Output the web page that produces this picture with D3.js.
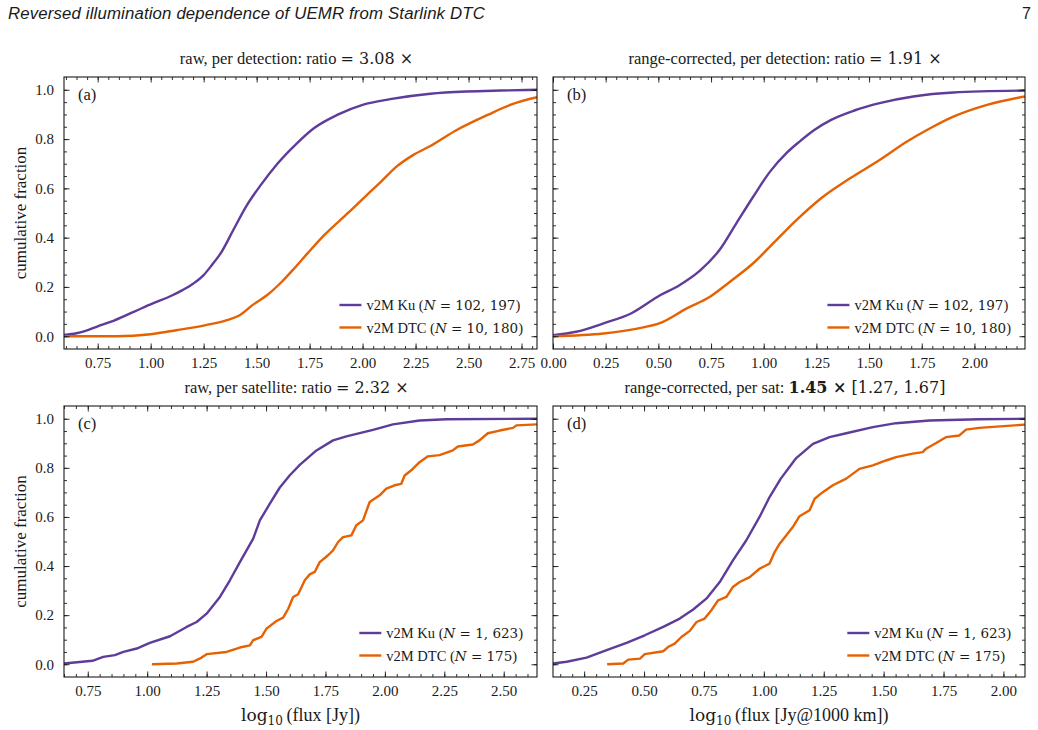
<!DOCTYPE html>
<html>
<head>
<meta charset="utf-8">
<script src="https://cdn.jsdelivr.net/npm/d3@7"></script>
<style>
  body { margin: 0; background: #fff; }
  svg text { font-family: "Liberation Serif", "Times New Roman", serif; fill: #1a1a1a; }
</style>
</head>
<body>
<div id="chart"></div>
<script>
    // ---- data (log10 flux vs cumulative fraction) ----
    // (a) raw, per detection
    const aKuX = [0.591, 0.65, 0.70, 0.75, 0.81, 0.92, 1.01, 1.10, 1.15, 1.20, 1.25, 1.29, 1.33, 1.39, 1.45, 1.52, 1.60, 1.69, 1.77, 1.88, 2.00, 2.13, 2.32, 2.49, 2.65, 2.823];
    const aKuY = [0.005, 0.012, 0.024, 0.04, 0.058, 0.099, 0.133, 0.165, 0.187, 0.213, 0.248, 0.29, 0.336, 0.431, 0.526, 0.614, 0.702, 0.783, 0.844, 0.898, 0.939, 0.962, 0.984, 0.993, 0.997, 1.0];
    const aDtcX = [0.591, 0.84, 1.00, 1.12, 1.26, 1.36, 1.42, 1.48, 1.55, 1.62, 1.67, 1.74, 1.82, 1.93, 2.02, 2.08, 2.16, 2.24, 2.32, 2.44, 2.59, 2.71, 2.823];
    const aDtcY = [0.0, 0.0, 0.008, 0.024, 0.045, 0.065, 0.085, 0.126, 0.167, 0.222, 0.268, 0.336, 0.411, 0.499, 0.573, 0.621, 0.688, 0.736, 0.772, 0.835, 0.898, 0.943, 0.97];

    // (b) range-corrected, per detection
    const bKuX = [0.0, 0.11, 0.24, 0.37, 0.51, 0.60, 0.70, 0.79, 0.87, 0.95, 1.03, 1.11, 1.17, 1.24, 1.32, 1.43, 1.55, 1.71, 1.90, 2.24];
    const bKuY = [0.004, 0.018, 0.052, 0.092, 0.167, 0.207, 0.268, 0.35, 0.458, 0.566, 0.668, 0.745, 0.79, 0.837, 0.878, 0.916, 0.946, 0.973, 0.989, 0.997];
    const bDtcX = [0.0, 0.24, 0.40, 0.51, 0.635, 0.745, 0.84, 0.95, 1.06, 1.16, 1.28, 1.41, 1.55, 1.68, 1.79, 1.90, 2.06, 2.24];
    const bDtcY = [0.0, 0.011, 0.031, 0.054, 0.113, 0.16, 0.221, 0.296, 0.39, 0.475, 0.565, 0.641, 0.715, 0.79, 0.844, 0.891, 0.939, 0.973];

    // (c) raw, per satellite
    const cKuX = [0.65, 0.77, 0.815, 0.864, 0.90, 0.956, 1.011, 1.096, 1.166, 1.208, 1.25, 1.306, 1.348, 1.39, 1.446, 1.474, 1.516, 1.558, 1.60, 1.642, 1.712, 1.782, 1.838, 1.95, 2.034, 2.146, 2.259, 2.64];
    const cKuY = [0.003, 0.014, 0.03, 0.037, 0.05, 0.064, 0.087, 0.114, 0.152, 0.172, 0.206, 0.274, 0.342, 0.416, 0.512, 0.586, 0.654, 0.72, 0.77, 0.812, 0.871, 0.912, 0.928, 0.955, 0.977, 0.993, 0.998, 1.0];
    const cDtcX = [1.02, 1.124, 1.193, 1.229, 1.25, 1.334, 1.39, 1.432, 1.446, 1.481, 1.502, 1.544, 1.572, 1.593, 1.614, 1.635, 1.663, 1.684, 1.705, 1.726, 1.761, 1.782, 1.803, 1.824, 1.859, 1.88, 1.908, 1.936, 1.978, 2.006, 2.041, 2.069, 2.083, 2.111, 2.146, 2.181, 2.23, 2.286, 2.307, 2.37, 2.398, 2.433, 2.483, 2.539, 2.553, 2.64];
    const cDtcY = [0.0, 0.003, 0.01, 0.027, 0.041, 0.05, 0.068, 0.077, 0.098, 0.111, 0.145, 0.176, 0.19, 0.225, 0.274, 0.285, 0.342, 0.366, 0.376, 0.416, 0.444, 0.464, 0.498, 0.518, 0.525, 0.566, 0.586, 0.661, 0.688, 0.715, 0.729, 0.735, 0.769, 0.79, 0.823, 0.847, 0.852, 0.871, 0.887, 0.895, 0.912, 0.941, 0.952, 0.963, 0.973, 0.977];

    // (d) range-corrected, per satellite
    const dKuX = [0.12, 0.177, 0.26, 0.344, 0.427, 0.503, 0.58, 0.649, 0.705, 0.76, 0.816, 0.871, 0.927, 0.982, 1.024, 1.07, 1.135, 1.205, 1.274, 1.344, 1.455, 1.552, 1.691, 1.899, 2.09];
    const dKuY = [0.003, 0.01, 0.027, 0.057, 0.087, 0.118, 0.152, 0.186, 0.223, 0.267, 0.335, 0.423, 0.505, 0.6, 0.681, 0.755, 0.84, 0.898, 0.925, 0.941, 0.966, 0.982, 0.993, 0.998, 1.0];
    const dDtcX = [0.346, 0.413, 0.434, 0.483, 0.503, 0.58, 0.60, 0.628, 0.656, 0.691, 0.719, 0.753, 0.781, 0.809, 0.844, 0.871, 0.899, 0.941, 0.982, 1.024, 1.045, 1.066, 1.094, 1.121, 1.149, 1.191, 1.212, 1.246, 1.288, 1.344, 1.399, 1.455, 1.51, 1.552, 1.621, 1.663, 1.677, 1.719, 1.76, 1.816, 1.844, 1.899, 2.09];
    const dDtcY = [0.0, 0.003, 0.019, 0.023, 0.041, 0.053, 0.07, 0.084, 0.111, 0.136, 0.172, 0.186, 0.22, 0.26, 0.274, 0.315, 0.335, 0.355, 0.389, 0.41, 0.457, 0.491, 0.525, 0.559, 0.603, 0.627, 0.674, 0.701, 0.729, 0.756, 0.796, 0.81, 0.83, 0.844, 0.858, 0.864, 0.878, 0.901, 0.925, 0.932, 0.956, 0.963, 0.976];

    // axis ranges and tick values
    const xDomains = [[0.591, 2.823], [0.0, 2.24], [0.65, 2.64], [0.12, 2.09]];
    const xTickVals = [
        [0.75, 1.00, 1.25, 1.50, 1.75, 2.00, 2.25, 2.50, 2.75],
        [0.00, 0.25, 0.50, 0.75, 1.00, 1.25, 1.50, 1.75, 2.00],
        [0.75, 1.00, 1.25, 1.50, 1.75, 2.00, 2.25, 2.50],
        [0.25, 0.50, 0.75, 1.00, 1.25, 1.50, 1.75, 2.00]
    ];
    const yDomain = [-0.052, 1.052];
    const yTickVals = [0.0, 0.2, 0.4, 0.6, 0.8, 1.0];

    // text
    const panelTags = ["(a)", "(b)", "(c)", "(d)"];
    const ratios = ["3.08", "1.91", "2.32", "1.45"];
    const kuCounts = ["102, 197", "102, 197", "1, 623", "1, 623"];
    const dtcCounts = ["10, 180", "10, 180", "175", "175"];
    const seriesNames = ["v2M Ku", "v2M DTC"];
    const colors = ["#5e3c99", "#e66101"];

    const MATH = "'DejaVu Serif', serif";
    const titles = [
        [{ t: "raw, per detection: ratio " }, { t: "= " + ratios[0] + " \u00d7", f: MATH, s: 16 }],
        [{ t: "range-corrected, per detection: ratio " }, { t: "= " + ratios[1] + " \u00d7", f: MATH, s: 16 }],
        [{ t: "raw, per satellite: ratio " }, { t: "= " + ratios[2] + " \u00d7", f: MATH, s: 16 }],
        [{ t: "range-corrected, per sat: " }, { t: ratios[3] + " \u00d7", f: MATH, s: 16, w: "bold" }, { t: " [1.27, 1.67]", f: MATH, s: 16 }]
    ];

    // ---- layout ----
    const width = 1038, height = 730;
    const boxes = [
        { left: 64, right: 537, top: 77, bottom: 349 },
        { left: 553, right: 1025, top: 77, bottom: 349 },
        { left: 64, right: 537, top: 406, bottom: 677 },
        { left: 553, right: 1025, top: 406, bottom: 677 }
    ];
    const series = [
        [[aKuX, aKuY], [aDtcX, aDtcY]],
        [[bKuX, bKuY], [bDtcX, bDtcY]],
        [[cKuX, cKuY], [cDtcX, cDtcY]],
        [[dKuX, dKuY], [dDtcX, dDtcY]]
    ];

    const svg = d3.select("#chart")
        .append("svg")
        .attr("width", width)
        .attr("height", height);

    // write a run of mixed-font text into a <text> element
    function richText(sel, parts, size) {
        parts.forEach(p => {
            sel.append("tspan")
                .attr("font-family", p.f || null)
                .attr("font-size", p.s || size)
                .attr("font-weight", p.w || null)
                .attr("font-style", p.i ? "italic" : null)
                .text(p.t);
        });
        return sel;
    }

    // page header
    svg.append("text")
        .attr("x", 8).attr("y", 19)
        .style("font-family", "'Liberation Sans', Arial, sans-serif")
        .style("font-style", "italic")
        .style("letter-spacing", "0.15px")
        .attr("font-size", 16.8)
        .text("Reversed illumination dependence of UEMR from Starlink DTC");
    svg.append("text")
        .attr("x", 1031).attr("y", 19)
        .attr("text-anchor", "end")
        .style("font-family", "'Liberation Sans', Arial, sans-serif")
        .attr("font-size", 16)
        .text("7");

    const steps = v => d3.range(Math.ceil(v[0] * 20 - 1e-6), Math.floor(v[1] * 20 + 1e-6) + 1).map(i => i / 20);

    boxes.forEach((b, i) => {
        const x = d3.scaleLinear().domain(xDomains[i]).range([b.left, b.right]);
        const y = d3.scaleLinear().domain(yDomain).range([b.bottom, b.top]);
        const g = svg.append("g");

        // clip for the curves
        g.append("clipPath").attr("id", "clip" + i)
            .append("rect")
            .attr("x", b.left).attr("y", b.top)
            .attr("width", b.right - b.left).attr("height", b.bottom - b.top);

        const line = d3.line()
            .x(d => x(d[0]))
            .y(d => y(d[1]))
            .curve(i < 2 ? d3.curveMonotoneX : d3.curveLinear);

        series[i].forEach(([xs, ys], k) => {
            g.append("path")
                .datum(xs.map((v, j) => [v, ys[j]]))
                .attr("clip-path", `url(#clip${i})`)
                .attr("fill", "none")
                .attr("stroke", colors[k])
                .attr("stroke-width", 2.4)
                .attr("stroke-linejoin", "round")
                .attr("d", line);
        });

        // ticks: inward on all four sides
        const minorX = steps(xDomains[i]);
        const minorY = steps([0, 1]);
        const axes = [
            [d3.axisBottom, x, b.bottom, 0, true],
            [d3.axisTop, x, b.top, 0, false],
            [d3.axisLeft, y, 0, b.left, i % 2 === 0],
            [d3.axisRight, y, 0, b.right, false]
        ];
        axes.forEach(([axisFn, scale, ty, tx, labels]) => {
            const isX = scale === x;
            const ag = g.append("g").attr("transform", `translate(${tx},${ty})`);
            ag.append("g")
                .call(axisFn(scale).tickValues(isX ? minorX : minorY).tickSize(-3).tickFormat(""));
            ag.append("g")
                .call(axisFn(scale).tickValues(isX ? xTickVals[i] : yTickVals)
                    .tickSize(-5.5)
                    .tickPadding(isX ? 8 : 10)
                    .tickFormat(labels ? (isX ? d3.format(".2f") : d3.format(".1f")) : ""));
            ag.selectAll(".domain").remove();
            ag.selectAll("g").attr("font-family", null).attr("font-size", null);
            ag.selectAll("line").attr("stroke", "#1a1a1a").attr("stroke-width", 0.9);
            ag.selectAll("text").attr("font-size", 15).attr("fill", "#1a1a1a");
        });

        // frame
        g.append("rect")
            .attr("x", b.left).attr("y", b.top)
            .attr("width", b.right - b.left).attr("height", b.bottom - b.top)
            .attr("fill", "none")
            .attr("stroke", "#1a1a1a")
            .attr("stroke-width", 1.1);

        // panel tag
        g.append("text")
            .attr("x", b.left + 14).attr("y", b.top + 23)
            .attr("font-size", 16.5)
            .text(panelTags[i]);

        // title
        richText(g.append("text")
            .attr("x", (b.left + b.right) / 2 - 4).attr("y", b.top - 13)
            .attr("text-anchor", "middle"), titles[i], 16.5);

        // legend
        const counts = [kuCounts[i], dtcCounts[i]];
        const rows = seriesNames.map((name, k) => richText(
            g.append("text").attr("y", b.bottom - 39 + k * 22.5),
            [{ t: name + " (" }, { t: "N", f: MATH, i: true, s: 13.5 }, { t: " = " + counts[k], f: MATH, s: 13.5 }, { t: ")" }],
            14.5));
        const maxW = d3.max(rows, r => r.node().getComputedTextLength());
        const tx = b.right - 14 - maxW;
        rows.forEach((r, k) => {
            r.attr("x", tx);
            g.append("line")
                .attr("x1", tx - 27).attr("x2", tx - 5)
                .attr("y1", b.bottom - 44 + k * 22.5).attr("y2", b.bottom - 44 + k * 22.5)
                .attr("stroke", colors[k])
                .attr("stroke-width", 2.4);
        });
    });

    // y labels
    [boxes[0], boxes[2]].forEach(b => {
        svg.append("text")
            .attr("transform", `translate(26,${(b.top + b.bottom) / 2}) rotate(-90)`)
            .attr("text-anchor", "middle")
            .attr("font-size", 17)
            .text("cumulative fraction");
    });

    // x labels
    const xLabelUnits = ["(flux [Jy])", "(flux [Jy@1000 km])"];
    [boxes[2], boxes[3]].forEach((b, k) => {
        const t = svg.append("text")
            .attr("x", (b.left + b.right) / 2).attr("y", 721)
            .attr("text-anchor", "middle")
            .attr("font-size", 18);
        t.append("tspan").attr("font-family", MATH).attr("font-size", 17).text("log");
        t.append("tspan").attr("font-family", MATH).attr("font-size", 12).attr("dy", 4).text("10");
        t.append("tspan").attr("dy", -4).text("\u2009" + xLabelUnits[k]);
    });
</script>
</body>
</html>
